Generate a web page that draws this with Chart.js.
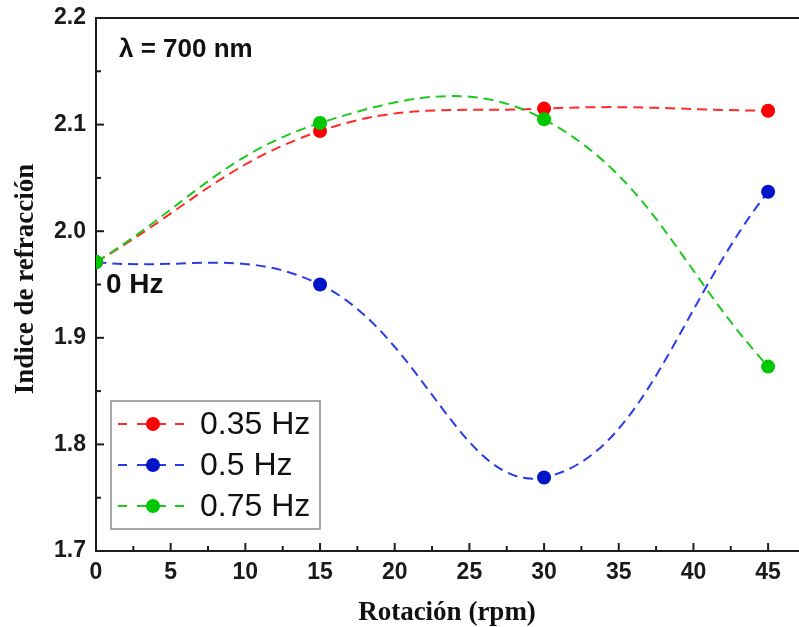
<!DOCTYPE html>
<html>
<head>
<meta charset="utf-8">
<script src="https://cdn.jsdelivr.net/npm/chart.js@4"></script>
<style>
html,body{margin:0;padding:0;background:#fff;}
#wrap{width:799px;height:627px;position:relative;}
</style>
</head>
<body>
<div id="wrap"><canvas id="c" width="799" height="627"></canvas></div>
<script>
// ---- data ----
const rotation = [0, 15, 30, 45];
const labels = ['0.35 Hz', '0.5 Hz', '0.75 Hz'];
const n035 = [1.971, 2.094, 2.115, 2.113];
const n05  = [1.971, 1.950, 1.769, 2.037];
const n075 = [1.971, 2.1015, 2.105, 1.873];
const xTicks = [0, 5, 10, 15, 20, 25, 30, 35, 40, 45];
const yTicks = [1.7, 1.8, 1.9, 2.0, 2.1, 2.2];
const xMinor = [2.5, 7.5, 12.5, 17.5, 22.5, 27.5, 32.5, 37.5, 42.5];
const yMinor = [1.75, 1.85, 1.95, 2.05, 2.15];
const xTitle = 'Rotación (rpm)';
const yTitle = 'Indice de refracción';
const note1 = 'λ = 700 nm';
const note2 = '0 Hz';

const pts = (ys) => rotation.map((x, i) => ({x: x, y: ys[i]}));

const AX = '#1c1c1c';

const axisPlugin = {
  id: 'axisDecor',
  afterDatasetsDraw(chart) {
    const ctx = chart.ctx, a = chart.chartArea;
    const xs = chart.scales.x, ys = chart.scales.y;
    ctx.save();
    ctx.strokeStyle = AX; ctx.lineWidth = 2;
    ctx.beginPath(); ctx.moveTo(a.left - 1, a.top); ctx.lineTo(chart.width, a.top); ctx.stroke();
    ctx.beginPath(); ctx.moveTo(a.right - 2, a.bottom); ctx.lineTo(chart.width, a.bottom); ctx.stroke();
    const drawX = (v, len) => { const p = xs.getPixelForValue(v); ctx.beginPath(); ctx.moveTo(p, a.bottom); ctx.lineTo(p, a.bottom - len); ctx.stroke(); };
    const drawY = (v, len) => { const p = ys.getPixelForValue(v); ctx.beginPath(); ctx.moveTo(a.left, p); ctx.lineTo(a.left + len, p); ctx.stroke(); };
    xTicks.forEach(v => drawX(v, 8));
    xMinor.forEach(v => drawX(v, 5));
    yTicks.forEach(v => drawY(v, 8));
    yMinor.forEach(v => drawY(v, 5));
    ctx.restore();
  },
  afterDraw(chart) {
    const ctx = chart.ctx;
    ctx.save();
    ctx.fillStyle = '#111';
    ctx.font = 'bold 27px "Liberation Serif", "Times New Roman", serif';
    ctx.textAlign = 'center'; ctx.textBaseline = 'alphabetic';
    ctx.fillText(xTitle, 447, 620);
    ctx.save();
    ctx.translate(33, 279); ctx.rotate(-Math.PI / 2);
    ctx.fillText(yTitle, 0, 0);
    ctx.restore();
    ctx.textAlign = 'left';
    ctx.font = 'bold 26px "Liberation Sans", Arial, sans-serif';
    ctx.fillText(note1, 119, 57);
    ctx.font = 'bold 28px "Liberation Sans", Arial, sans-serif';
    ctx.fillText(note2, 106, 293);
    // legend
    const bx = 111, by = 401, bw = 209, bh = 128;
    ctx.fillStyle = '#fff';
    ctx.fillRect(bx, by, bw, bh);
    ctx.strokeStyle = '#8a8a8a'; ctx.lineWidth = 1.5;
    ctx.strokeRect(bx, by, bw, bh);
    const rows = [424, 465, 506];
    chart.data.datasets.forEach((ds, i) => {
      const y = rows[i];
      ctx.save();
      ctx.strokeStyle = ds.borderColor; ctx.lineWidth = ds.borderWidth;
      ctx.setLineDash([9, 10]);
      ctx.lineDashOffset = -2;
      ctx.beginPath(); ctx.moveTo(116, y); ctx.lineTo(192, y); ctx.stroke();
      ctx.setLineDash([]);
      ctx.beginPath(); ctx.moveTo(140, y); ctx.lineTo(166, y); ctx.stroke();
      ctx.fillStyle = ds.pointBackgroundColor;
      ctx.beginPath(); ctx.arc(153, y, ds.pointRadius, 0, Math.PI * 2); ctx.fill();
      ctx.restore();
      ctx.fillStyle = '#111';
      ctx.font = '32px "Liberation Sans", Arial, sans-serif';
      ctx.textBaseline = 'middle'; ctx.textAlign = 'left';
      ctx.fillText(ds.label, 200, y + 1);
    });
    ctx.restore();
  }
};

const mk = (label, data, line, mark, order) => ({
  label: label, data: pts(data), order: order,
  borderColor: line, borderWidth: 2, borderDash: [10, 6],
  pointBackgroundColor: mark, pointBorderColor: mark, pointBorderWidth: 0,
  pointRadius: 7, pointHoverRadius: 7,
  tension: 0.4, fill: false, clip: 0
});

new Chart(document.getElementById('c'), {
  type: 'line',
  data: {
    datasets: [
      mk(labels[0], n035, '#ff2a2a', '#ff0000', 1),
      mk(labels[1], n05, '#2a3ce6', '#0014c8', 2),
      mk(labels[2], n075, '#1ec81e', '#00c800', 0)
    ]
  },
  options: {
    responsive: false, animation: false, devicePixelRatio: 1,
    layout: {padding: {top: 18, right: 0, left: 0, bottom: 0}},
    plugins: {legend: {display: false}, tooltip: {enabled: false}},
    scales: {
      x: {
        type: 'linear', min: 0, max: 46.6,
        grid: {display: false, drawTicks: false},
        border: {display: true, color: AX, width: 2},
        afterBuildTicks: (s) => { s.ticks = xTicks.map(v => ({value: v})); },
        afterFit: (s) => { s.height = 76; s.paddingLeft = 0; s.paddingRight = 0; },
        ticks: {padding: 8, color: '#1a1a1a', font: {family: '"Liberation Sans", Arial, sans-serif', size: 23, weight: 'bold'}, maxRotation: 0}
      },
      y: {
        type: 'linear', min: 1.7, max: 2.2,
        grid: {display: false, drawTicks: false},
        border: {display: true, color: AX, width: 2},
        afterBuildTicks: (s) => { s.ticks = yTicks.map(v => ({value: v})); },
        afterFit: (s) => { s.width = 96; s.paddingTop = 0; s.paddingBottom = 0; },
        ticks: {padding: 10, color: '#1a1a1a', font: {family: '"Liberation Sans", Arial, sans-serif', size: 23, weight: 'bold'}, callback: (v) => v.toFixed(1)}
      }
    }
  },
  plugins: [axisPlugin]
});
</script>
</body>
</html>
